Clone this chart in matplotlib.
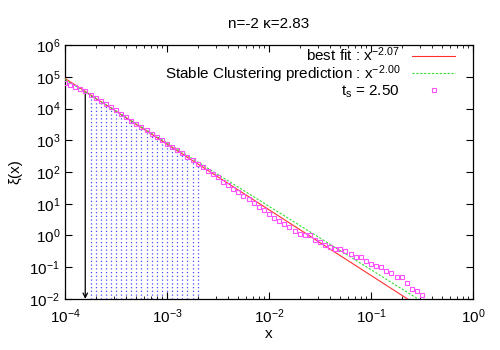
import numpy as np
import matplotlib
matplotlib.use('Agg')
import matplotlib.pyplot as plt
from matplotlib.ticker import LogLocator, LogFormatterMathtext, NullFormatter

plt.rcParams['font.family'] = ['Liberation Sans', 'DejaVu Sans']
plt.rcParams['mathtext.fontset'] = 'custom'
plt.rcParams['mathtext.rm'] = 'Liberation Sans'
plt.rcParams['mathtext.it'] = 'Liberation Sans:italic'
plt.rcParams['mathtext.default'] = 'regular'

x_data = [1.00e-4, 1.12e-4, 1.26e-4, 1.41e-4, 1.58e-4, 1.78e-4, 2.00e-4, 2.24e-4, 2.51e-4, 2.82e-4,
          3.16e-4, 3.55e-4, 3.98e-4, 4.47e-4, 5.01e-4, 5.62e-4, 6.31e-4, 7.08e-4, 7.94e-4, 8.91e-4,
          1.00e-3, 1.12e-3, 1.26e-3, 1.41e-3, 1.58e-3, 1.78e-3, 2.00e-3, 2.24e-3, 2.51e-3, 2.82e-3,
          3.16e-3, 3.55e-3, 3.98e-3, 4.47e-3, 5.01e-3, 5.62e-3, 6.31e-3, 7.08e-3, 7.94e-3, 8.91e-3,
          1.00e-2, 1.12e-2, 1.26e-2, 1.41e-2, 1.58e-2, 1.78e-2, 2.00e-2, 2.24e-2, 2.51e-2, 2.82e-2,
          3.16e-2, 3.55e-2, 3.98e-2, 4.47e-2, 5.01e-2, 5.62e-2, 6.31e-2, 7.08e-2, 7.94e-2, 8.91e-2,
          1.00e-1, 1.12e-1, 1.26e-1, 1.41e-1, 1.58e-1, 1.78e-1, 2.00e-1, 2.24e-1, 2.51e-1, 2.82e-1,
          3.16e-1]
log_xi = [4.81, 4.75, 4.69, 4.62, 4.54, 4.43, 4.34, 4.24, 4.13, 4.04,
          3.94, 3.84, 3.73, 3.62, 3.51, 3.41, 3.31, 3.20, 3.11, 3.01,
          2.89, 2.80, 2.69, 2.59, 2.48, 2.38, 2.24, 2.15, 2.04, 1.93,
          1.83, 1.69, 1.60, 1.47, 1.36, 1.25, 1.14, 1.01, 0.91, 0.80,
          0.69, 0.55, 0.46, 0.36, 0.26, 0.14, 0.06, 0.01, 0.00, -0.13,
          -0.20, -0.30, -0.37, -0.42, -0.43, -0.50, -0.60, -0.68, -0.69, -0.79,
          -0.89, -0.95, -1.01, -1.11, -1.19, -1.30, -1.32, -1.51, -1.68, -1.75,
          -1.87]
xi_data = [10 ** v for v in log_xi]

# power-law fits: log10 amplitude and slope
fit_logamp = -3.33
fit_slope = -2.07
sc_logamp = -3.08
sc_slope = -2.00
line_x = np.array([1e-4, 1.0])

# shaded range (blue drop lines) and arrow index
drop_start = 5
drop_end = 26
arrow_idx = 4

fs = 11

fig = plt.figure(figsize=(5, 3.5), dpi=100)
ax = fig.add_axes([0.13, 0.146, 0.816, 0.725])

for i in range(drop_start, drop_end + 1):
    ax.plot([x_data[i], x_data[i]], [1e-2, xi_data[i]], color='#4a4aff', lw=0.9,
            linestyle=(0, (1, 2)), zorder=1)

ax.annotate('', xy=(x_data[arrow_idx], 1e-2), xytext=(x_data[arrow_idx], xi_data[arrow_idx]),
            arrowprops=dict(arrowstyle='->', color='black', lw=0.9, mutation_scale=8,
                            shrinkA=0, shrinkB=0), zorder=2)

ax.plot(line_x, 10 ** fit_logamp * line_x ** fit_slope, color='#ff3030', lw=0.8,
        label='best fit : x$^{-2.07}$', zorder=3)
ax.plot(line_x, 10 ** sc_logamp * line_x ** sc_slope, color='#30e030', lw=0.8,
        linestyle=(0, (2, 1.5)), label='Stable Clustering prediction : x$^{-2.00}$', zorder=3)
ax.plot(x_data, xi_data, linestyle='none', marker='s', markersize=3.4, mfc='none',
        mec='#ff50ff', mew=0.8, label='t$_s$ = 2.50', zorder=4)

ax.set_xscale('log')
ax.set_yscale('log')
ax.set_xlim(1e-4, 1)
ax.set_ylim(1e-2, 1e6)

ax.xaxis.set_major_locator(LogLocator(base=10, numticks=10))
ax.xaxis.set_minor_locator(LogLocator(base=10, subs=np.arange(2, 10), numticks=10))
ax.xaxis.set_minor_formatter(NullFormatter())
ax.yaxis.set_major_locator(LogLocator(base=10, numticks=20))
ax.yaxis.set_minor_locator(LogLocator(base=10, subs=[], numticks=20))
ax.xaxis.set_major_formatter(LogFormatterMathtext())
ax.yaxis.set_major_formatter(LogFormatterMathtext())
ax.tick_params(which='both', direction='in', top=True, right=True, labelsize=fs)
ax.tick_params(which='major', length=5, width=0.8)
ax.tick_params(which='minor', length=2.5, width=0.6)
ax.tick_params(axis='x', pad=6)
for s in ax.spines.values():
    s.set_linewidth(0.9)

ax.set_xlabel('x', fontsize=fs, labelpad=1)
ax.set_ylabel('ξ(x)', fontsize=fs, labelpad=5)
ax.set_title('n=-2 κ=2.83', fontsize=fs, pad=12)

ax.legend(loc='upper right', bbox_to_anchor=(0.956, 0.998), frameon=False,
          markerfirst=False, fontsize=fs, handlelength=2.8, labelspacing=-0.08,
          borderaxespad=0, borderpad=0, handletextpad=0.8)

fig.savefig('out.png', dpi=100)
